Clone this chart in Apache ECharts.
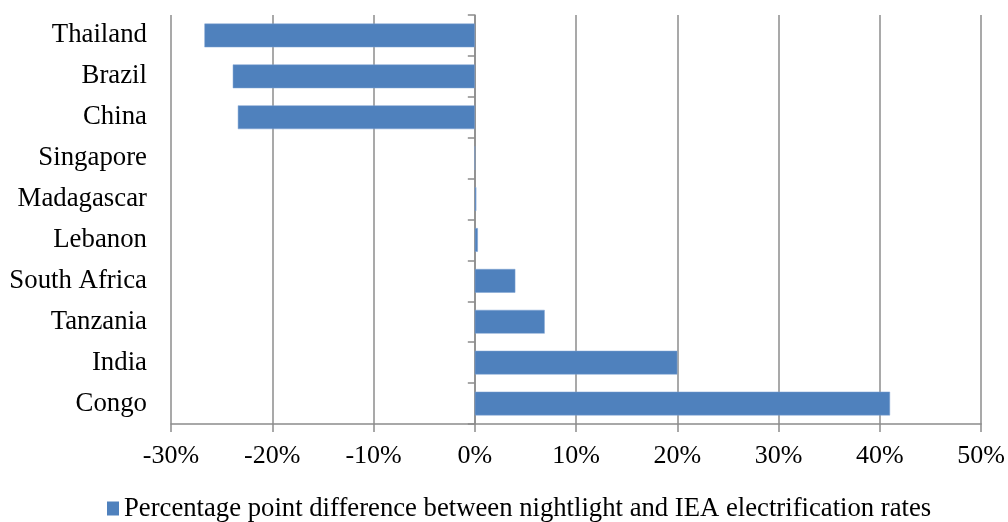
<!DOCTYPE html>
<html><head><meta charset="utf-8">
<script src="https://cdn.jsdelivr.net/npm/echarts@6/dist/echarts.min.js"></script>
<style>html,body{margin:0;padding:0;background:#fff}#c{width:1008px;height:522px}</style>
</head><body><div id="c"></div>
<script>
const categories = ['Congo','India','Tanzania','South Africa','Lebanon','Madagascar','Singapore','China','Brazil','Thailand'];
const values = [41.0, 20.0, 6.9, 4.0, 0.3, 0.15, 0, -23.4, -23.9, -26.7];
const seriesName = 'Percentage point difference between nightlight and IEA electrification rates';
const xMin = -30, xMax = 50, xStep = 10;

const font = 'Liberation Serif, Times New Roman, serif';
const gray = '#8c8c8c';
const chart = echarts.init(document.getElementById('c'));
chart.setOption({
  animation: false,
  textStyle: {fontFamily: font},
  grid: {left: 171, right: 25, top: 15, bottom: 98},
  legend: {
    data: [seriesName], top: 490, left: 102, icon: 'rect', itemWidth: 12, itemHeight: 14, itemGap: 6,
    itemStyle: {borderWidth: 0},
    textStyle: {fontFamily: font, fontSize: 26.7, color: '#000'}
  },
  xAxis: {
    type: 'value', min: xMin, max: xMax, interval: xStep,
    axisLine: {show: true, lineStyle: {color: gray, width: 1.5}},
    axisTick: {show: true, length: 8, lineStyle: {color: gray, width: 1.5}},
    axisLabel: {formatter: v => v + '%', fontFamily: font, fontSize: 26, color: '#000', margin: 19},
    splitLine: {show: true, lineStyle: {color: gray, width: 1.5}}
  },
  yAxis: [{
    type: 'category', data: categories, position: 'left',
    axisLine: {show: false, onZero: false}, axisTick: {show: false},
    axisLabel: {fontFamily: font, fontSize: 26.8, color: '#000', margin: 24, padding: [5, 0, 0, 0]}
  }, {
    type: 'category', data: categories, position: 'left',
    axisLine: {show: true, onZero: true, onZeroAxisIndex: 0, lineStyle: {color: gray, width: 1.5}},
    axisTick: {show: true, length: 7, lineStyle: {color: gray, width: 1.5}},
    axisLabel: {show: false}
  }],
  series: [{
    name: seriesName, type: 'bar', data: values, yAxisIndex: 0,
    barCategoryGap: '42%',
    itemStyle: {color: '#4F81BD', borderColor: '#7fa3d3', borderWidth: 0.5}
  }]
});
</script></body></html>
